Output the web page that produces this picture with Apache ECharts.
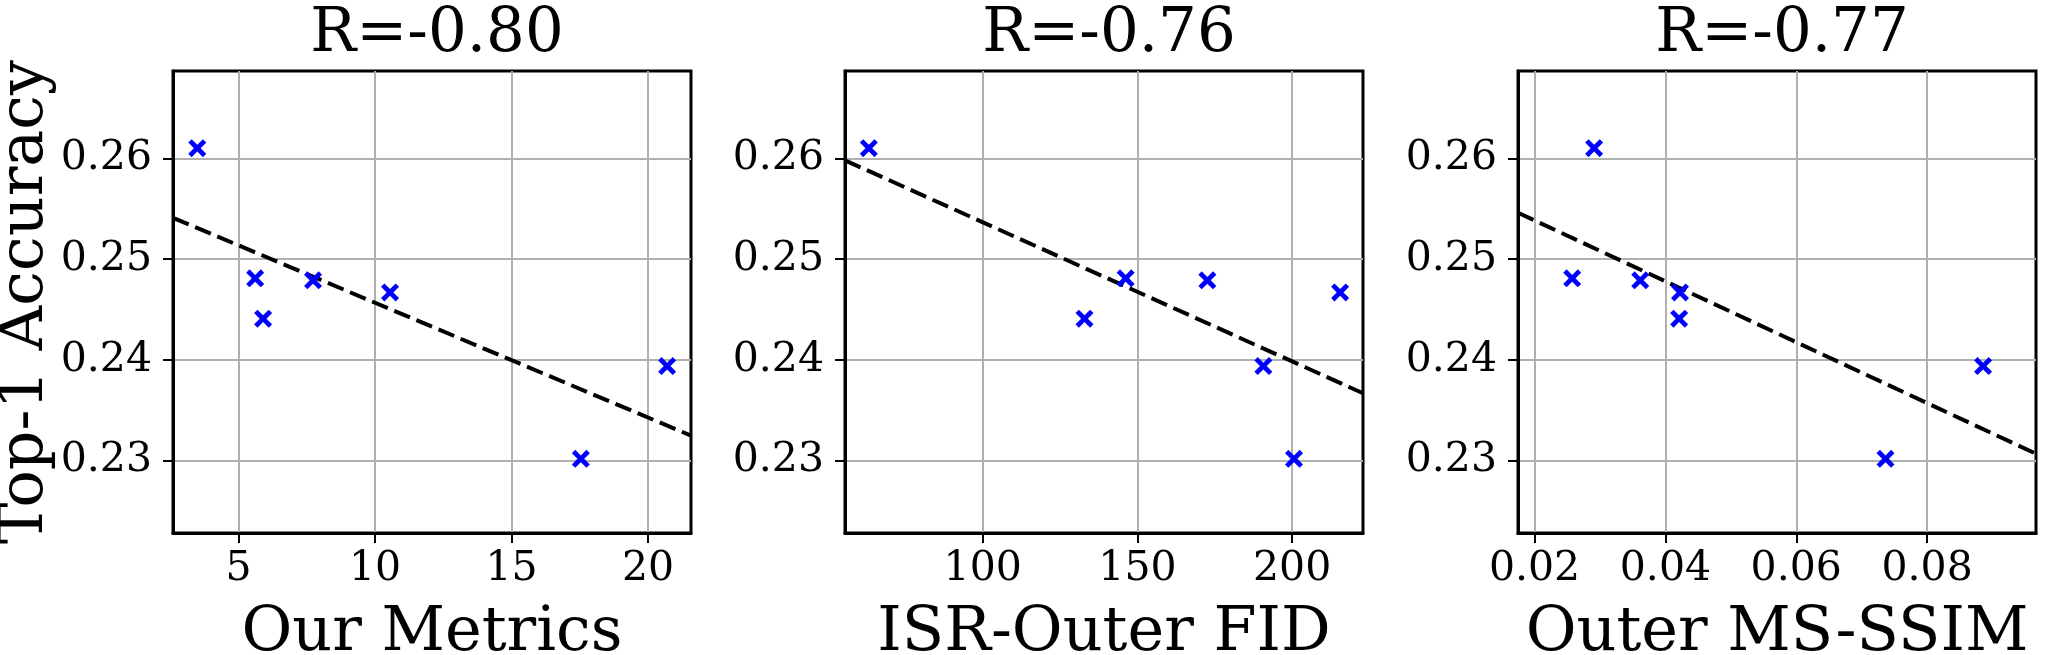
<!DOCTYPE html>
<html>
<head>
<meta charset="utf-8">
<script src="https://cdn.jsdelivr.net/npm/echarts@6/dist/echarts.min.js"></script>
<style>
  html, body { margin: 0; padding: 0; background: #ffffff; }
  #chart { width: 2045px; height: 655px; }
</style>
</head>
<body>
<div id="chart"></div>
<script>
// ---- data ----
const titles = ['R=-0.80', 'R=-0.76', 'R=-0.77'];
const xNames = ['Our Metrics', 'ISR-Outer FID', 'Outer MS-SSIM'];
const yName = 'Top-1 Accuracy';

const accuracy   = [0.2610, 0.2481, 0.2441, 0.2479, 0.2467, 0.2302, 0.2394];
const ourMetrics = [3.49, 5.61, 5.90, 7.73, 10.55, 17.54, 20.70];
const isrOuterFid = [63.2, 146.2, 132.9, 172.6, 215.5, 200.6, 190.7];
const outerMsSsim = [0.0291, 0.02575, 0.0421, 0.03615, 0.04223, 0.07364, 0.08855];

// fitted dashed lines: endpoints at the axis limits
const fitX1 = [2.60, 21.575];   const fitY1 = [0.2541, 0.2325];
const fitX2 = [55.5, 222.9];    const fitY2 = [0.2598, 0.2367];
const fitX3 = [0.01747, 0.09664]; const fitY3 = [0.2546, 0.2307];

// axis limits and ticks
const xLims = [[2.60, 21.575], [55.5, 222.9], [0.01747, 0.09664]];
const xTicks = [[5, 10, 15, 20], [100, 150, 200], [0.02, 0.04, 0.06, 0.08]];
const yLim = [0.22284, 0.26866];
const yTicks = [0.23, 0.24, 0.25, 0.26];

const xData = [ourMetrics, isrOuterFid, outerMsSsim];
const fits = [[fitX1, fitY1], [fitX2, fitY2], [fitX3, fitY3]];

// ---- layout / style ----
const FONT = 'DejaVu Serif';
const gridLefts = [173, 845, 1518];
const gridW = 518, gridTop = 71, gridH = 462;
const xFmt = [v => String(Math.round(v)), v => String(Math.round(v)), v => v.toFixed(2)];
const X_PATH = 'path://M0,3 L3,0 L8,5 L13,0 L16,3 L11,8 L16,13 L13,16 L8,11 L3,16 L0,13 L5,8 Z';

const grids = [], xAxes = [], yAxes = [], series = [], titleArr = [];
for (let i = 0; i < 3; i++) {
  grids.push({
    left: gridLefts[i], top: gridTop, width: gridW, height: gridH,
    containLabel: false, outerBoundsMode: 'none',
    show: true, borderColor: '#000', borderWidth: 3, backgroundColor: '#fff', z: 0
  });
  titleArr.push({
    text: titles[i], left: gridLefts[i] + gridW / 2, top: 0, textAlign: 'center',
    textStyle: { fontFamily: FONT, fontSize: 61, fontWeight: 'normal', color: '#000' }
  });
  xAxes.push({
    gridIndex: i, type: 'value', min: xLims[i][0], max: xLims[i][1],
    name: xNames[i], nameLocation: 'middle', nameGap: 70,
    nameTextStyle: { fontFamily: FONT, fontSize: 62, color: '#000' },
    axisLine: { show: true, onZero: false, lineStyle: { color: '#000', width: 3 } },
    axisTick: { show: true, inside: false, length: 10, customValues: xTicks[i], lineStyle: { color: '#000', width: 2 } },
    axisLabel: { show: true, customValues: xTicks[i], margin: 16, formatter: xFmt[i],
                 fontFamily: FONT, fontSize: 41, color: '#000' },
    splitLine: { show: true, lineStyle: { color: '#b0b0b0', width: 2 } }
  });
  yAxes.push({
    gridIndex: i, type: 'value', min: yLim[0], max: yLim[1],
    name: i === 0 ? yName : '', nameLocation: 'middle', nameGap: 116, nameRotate: 90,
    nameTextStyle: { fontFamily: FONT, fontSize: 62, color: '#000' },
    axisLine: { show: true, onZero: false, lineStyle: { color: '#000', width: 3 } },
    axisTick: { show: true, inside: false, length: 10, customValues: yTicks, lineStyle: { color: '#000', width: 2 } },
    axisLabel: { show: true, customValues: yTicks, margin: 21, formatter: v => v.toFixed(2),
                 fontFamily: FONT, fontSize: 41, color: '#000' },
    splitLine: { show: true, lineStyle: { color: '#b0b0b0', width: 2 } }
  });
  series.push({
    type: 'line', xAxisIndex: i, yAxisIndex: i,
    data: fits[i][0].map((x, k) => [x, fits[i][1][k]]),
    showSymbol: false, symbol: 'none', clip: true, silent: true, z: 3,
    lineStyle: { color: '#000', width: 4, type: [17, 7] }
  });
  series.push({
    type: 'scatter', xAxisIndex: i, yAxisIndex: i,
    data: xData[i].map((x, k) => [x, accuracy[k]]),
    symbol: X_PATH, symbolSize: 18, z: 4,
    itemStyle: { color: '#0000ff', opacity: 1 }
  });
}

const chart = echarts.init(document.getElementById('chart'), null, { renderer: 'canvas' });
chart.setOption({
  backgroundColor: '#ffffff',
  animation: false,
  title: titleArr,
  grid: grids,
  xAxis: xAxes,
  yAxis: yAxes,
  series: series
});
</script>
</body>
</html>
